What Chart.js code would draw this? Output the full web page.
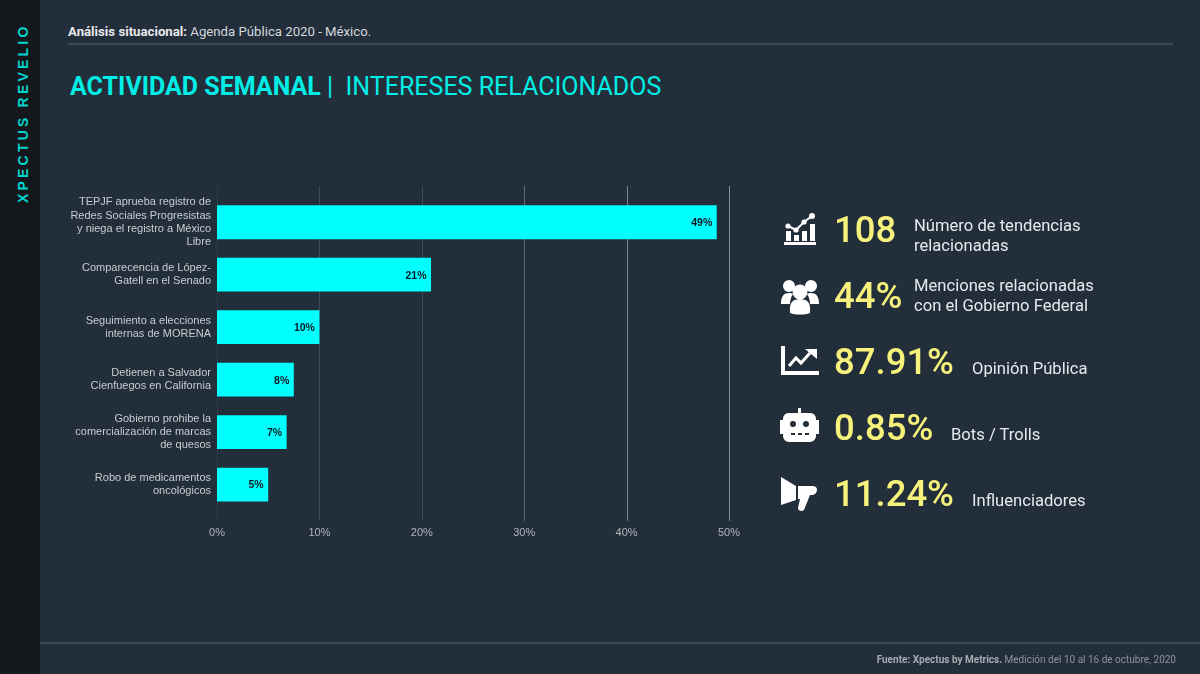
<!DOCTYPE html>
<html lang="es">
<head>
<meta charset="utf-8">
<title>Actividad semanal</title>
<script src="https://cdn.jsdelivr.net/npm/chart.js@4"></script>
<style>
  html, body { margin: 0; padding: 0; }
  body { width: 1200px; height: 674px; background: #232e3b; overflow: hidden; position: relative; font-family: Roboto, sans-serif; }
  .side { position: absolute; left: 0; top: 0; width: 40px; height: 674px; background: #14181c; }
  .brand { position: absolute; left: 16px; top: 203px; transform-origin: 0 0; transform: rotate(-90deg); color: #00d4ce; font-family: "Liberation Sans", sans-serif; font-size: 14px; font-weight: 700; letter-spacing: 3.2px; white-space: nowrap; line-height: 14px; }
  .rule { position: absolute; height: 2px; background: #39495a; }
  .crumb { position: absolute; left: 68px; top: 24px; color: #d4d8dc; font-size: 13.2px; }
  .crumb b { color: #e8eaec; }
  h1 { position: absolute; left: 70px; top: 72px; margin: 0; color: #00eee6; font-size: 25px; font-weight: 400; white-space: nowrap; line-height: 30px; }
  h1 b { font-weight: 700; }
  #chart { position: absolute; left: 0; top: 0; }
  .num { position: absolute; color: #f6f27c; font-size: 36.5px; font-weight: 500; line-height: 44px; white-space: nowrap; }
  .lbl { position: absolute; color: #e6eaee; font-size: 16.6px; line-height: 20px; white-space: nowrap; }
  svg.ic { position: absolute; fill: #fff; }
  .src { position: absolute; right: 24px; top: 654px; color: #8b939b; font-size: 10px; white-space: nowrap; }
  .src b { color: #a4abb2; }
</style>
</head>
<body>
<div class="side"><div class="brand">XPECTUS REVELIO</div></div>
<div class="crumb"><b>Análisis situacional:</b> Agenda Pública 2020 - México.</div>
<div class="rule" style="left:68px;top:43px;width:1105px"></div>
<h1><b>ACTIVIDAD SEMANAL</b> <b style="font-weight:400">|</b>&nbsp; INTERESES RELACIONADOS</h1>
<canvas id="chart" width="1200" height="674"></canvas>

<svg class="ic" style="left:784px;top:212px" width="32" height="33" viewBox="0 0 32 33"><path d="M0 30h32v3H0zM2 19h5v10H2zM10 23h5v6h-5zM18 19h5v10h-5zM26 12h5v17h-5z"/><path d="M4 14l8 4 8-8 8-6" fill="none" stroke="#fff" stroke-width="2"/><circle cx="4" cy="14" r="2.6"/><circle cx="12" cy="18" r="2.6"/><circle cx="20" cy="10" r="2.6"/><circle cx="28" cy="4" r="3"/></svg>
<div class="num" style="left:834px;top:208px">108</div>
<div class="lbl" style="left:914px;top:216px">Número de tendencias<br>relacionadas</div>

<svg class="ic" style="left:780px;top:279px" width="40" height="36" viewBox="0 0 40 36"><circle cx="9" cy="7" r="6"/><circle cx="31" cy="7" r="6"/><path d="M1 25c0-8 3-11 8-11 2 0 3 .5 4 1-2 3-3 6-3 10zM39 25c0-8-3-11-8-11-2 0-3 .5-4 1 2 3 3 6 3 10z"/><circle cx="20" cy="13" r="7.5"/><path d="M10 34c-1-11 3-14 10-14s11 3 10 14c-5 2-15 2-20 0z"/></svg>
<div class="num" style="left:834px;top:274px">44%</div>
<div class="lbl" style="left:914px;top:276px">Menciones relacionadas<br>con el Gobierno Federal</div>

<svg class="ic" style="left:781px;top:346px" width="38" height="30" viewBox="0 0 38 30"><path d="M0 0h4v25h34v4H0z"/><path d="M8 20l7-8 5 5 9-10" fill="none" stroke="#fff" stroke-width="3"/><path d="M24 3h12v10z"/></svg>
<div class="num" style="left:834px;top:340px">87.91%</div>
<div class="lbl" style="left:972px;top:359px">Opinión Pública</div>

<svg class="ic" style="left:780px;top:408px" width="39" height="35" viewBox="0 0 39 35"><path d="M18 0h3v6h-3z"/><path d="M9 5h21c4 0 6 3 6 6v1h3v14h-3v2c0 3-3 6-6 6H9c-3 0-6-3-6-6v-2H0V12h3v-1c0-3 2-6 6-6z"/><circle cx="13" cy="16" r="3" fill="#232e3b"/><circle cx="26" cy="16" r="3" fill="#232e3b"/><path d="M11 25h4v2h-4zM18 25h4v2h-4zM25 25h4v2h-4z" fill="#232e3b"/></svg>
<div class="num" style="left:834px;top:406px">0.85%</div>
<div class="lbl" style="left:951px;top:425px">Bots / Trolls</div>

<svg class="ic" style="left:781px;top:476px" width="36" height="36" viewBox="0 0 36 36"><path d="M0 1l15 9v14L0 29c-1-9-1-19 0-28z"/><path d="M17 10h14c3 0 5 1 5 4s-3 5-5 5h-2l-6 15c-2 2-6 1-6-2l2-9h-2z"/></svg>
<div class="num" style="left:834px;top:472px">11.24%</div>
<div class="lbl" style="left:972px;top:491px">Influenciadores</div>

<div class="rule" style="left:40px;top:642px;width:1160px"></div>
<div class="src"><b>Fuente: Xpectus by Metrics.</b> Medición del 10 al 16 de octubre, 2020</div>

<script>
const categories = [
  ['TEPJF aprueba registro de', 'Redes Sociales Progresistas', 'y niega el registro a México', 'Libre'],
  ['Comparecencia de López-', 'Gatell en el Senado'],
  ['Seguimiento a elecciones', 'internas de MORENA'],
  ['Detienen a Salvador', 'Cienfuegos en California'],
  ['Gobierno prohibe la', 'comercialización de marcas', 'de quesos'],
  ['Robo de medicamentos', 'oncológicos']
];
const shares = [48.8, 20.9, 10.0, 7.5, 6.8, 5.0];
const shareLabels = ['49%', '21%', '10%', '8%', '7%', '5%'];
const xTicks = [0, 10, 20, 30, 40, 50];

// gridlines run past the bar area in the original, so they are drawn here
const longGrid = {
  id: 'longGrid',
  beforeDatasetsDraw(chart) {
    const { ctx, scales: { x }, chartArea } = chart;
    xTicks.forEach(t => {
      const px = Math.round(x.getPixelForValue(t)) + 0.5;
      ctx.strokeStyle = t === 0 ? '#2d3a48' : t === 50 ? '#8a939c' : t === 40 ? '#79838d' : t === 30 ? '#5f6a76' : '#3d4a58';
      ctx.lineWidth = 1;
      ctx.beginPath();
      ctx.moveTo(px, chartArea.top - 10);
      ctx.lineTo(px, chartArea.bottom + 10);
      ctx.stroke();
    });
  }
};

const barLabels = {
  id: 'barLabels',
  afterDatasetsDraw(chart) {
    const { ctx } = chart;
    ctx.save();
    ctx.fillStyle = '#0b1a20';
    ctx.font = 'bold 10.5px "Liberation Sans", sans-serif';
    ctx.textAlign = 'right';
    ctx.textBaseline = 'middle';
    chart.getDatasetMeta(0).data.forEach((bar, i) => {
      ctx.fillText(shareLabels[i], bar.x - 4.5, bar.y + 1);
    });
    ctx.restore();
  }
};

new Chart(document.getElementById('chart'), {
  type: 'bar',
  data: {
    labels: categories,
    datasets: [{ data: shares, backgroundColor: '#00ffff', barPercentage: 0.645, categoryPercentage: 1 }]
  },
  options: {
    indexAxis: 'y',
    responsive: false,
    animation: false,
    layout: { padding: { left: 0, top: 196, right: 471, bottom: 118 } },
    plugins: { legend: { display: false }, tooltip: { enabled: false } },
    scales: {
      x: {
        min: 0,
        max: 50,
        afterBuildTicks(axis) { axis.ticks = xTicks.map(value => ({ value })); },
        grid: { display: false, tickLength: 0 },
        border: { display: false },
        ticks: { color: '#b0b5ba', padding: 16, maxRotation: 0, font: { family: 'Liberation Sans', size: 11 }, callback: v => v + '%' }
      },
      y: {
        afterFit(axis) { axis.width = 217; },
        grid: { display: false, tickLength: 0 },
        border: { display: false },
        ticks: { color: '#c8ccd0', padding: 6, autoSkip: false, font: { family: 'Liberation Sans', size: 11, lineHeight: 1.21 } }
      }
    }
  },
  plugins: [longGrid, barLabels]
});
</script>
</body>
</html>
